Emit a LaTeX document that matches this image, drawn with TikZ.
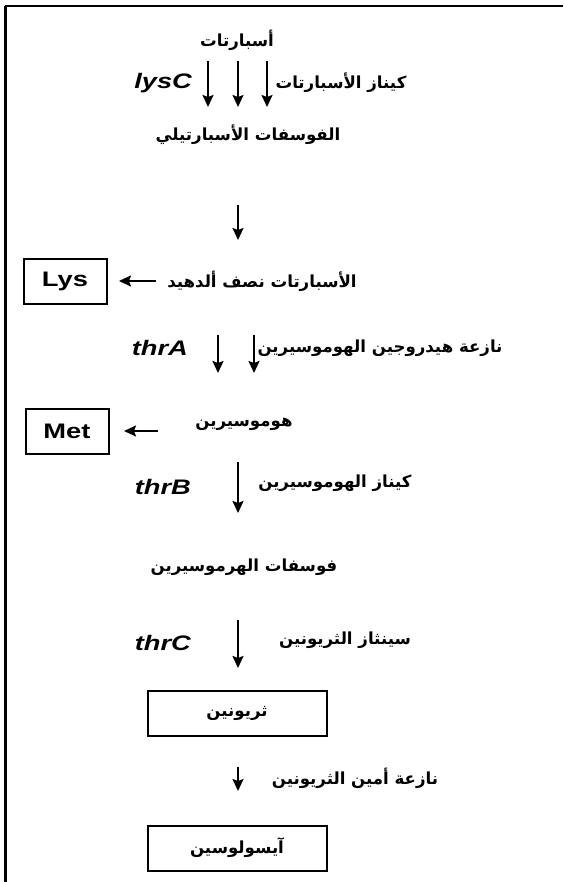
\documentclass[tikz,border=0pt]{standalone}
\usepackage{fontspec}
\usepackage{tikz}
\usetikzlibrary{arrows.meta}
\TeXXeTstate=1
\newfontfamily\arabicfont[Script=Arabic]{DejaVu Sans}
\newfontfamily\genefont[FakeStretch=1.3]{Liberation Sans}
\newcommand{\artext}[1]{{\arabicfont\bfseries\fontsize{8.3}{10}\selectfont\beginR #1\endR}}
\newcommand{\gene}[1]{{\genefont\bfseries\itshape\fontsize{10.5}{12}\selectfont #1}}
\tikzset{
  step arrow/.style={line width=1pt,-{Stealth[length=6pt,width=5.5pt,inset=1pt]}},
  amino box/.style={draw,line width=1pt,inner sep=0pt,minimum height=22.5pt,font=\genefont\bfseries\fontsize{10.5}{12}\selectfont},
}
\begin{document}
\begin{tikzpicture}[x=0.5pt,y=-0.5pt]
        \useasboundingbox (0,0) rectangle (563,882);
        \draw[line width=1pt] (563,6)--(5,6); \draw[line width=1.5pt] (5,6)--(5,882);
        % aspartate -> aspartyl phosphate
        \node (asp) at (237,40) {\artext{أسبارتات}};
        \node[anchor=east] (lysC) at (199,83) {\gene{lysC}};
        \node (aspk) at (341,83) {\artext{كيناز الأسبارتات}};
        \foreach \x [count=\i] in {208,238,267}{
            \coordinate (a\i) at (\x,61); \coordinate (b\i) at (\x,107);
            \draw[step arrow] (a\i)--(b\i);
        }
        \node (aspp) at (248,135) {\artext{الفوسفات الأسبارتيلي}};
        \coordinate (c1) at (238,205); \coordinate (c2) at (238,240);
        \draw[step arrow] (c1)--(c2);
        % semialdehyde, lysine branch
        \node (asa) at (262,281) {\artext{الأسبارتات نصف ألدهيد}};
        \node[amino box,minimum width=41.5pt] (lys) at (65,281) {Lys};
        \coordinate (d1) at (156,281); \coordinate (d2) at (119,281);
        \draw[step arrow] (d1)--(d2);
        \node[anchor=east] (thrA) at (195,348) {\gene{thrA}};
        \node (hdh) at (380,348) {\artext{نازعة هيدروجين الهوموسيرين}};
        \foreach \x [count=\i] in {218,254}{
            \coordinate (e\i) at (\x,335); \coordinate (f\i) at (\x,373);
            \draw[step arrow] (e\i)--(f\i);
        }
        % homoserine, methionine branch
        \node (hse) at (244,424) {\artext{هوموسيرين}};
        \node[amino box,minimum width=41.5pt] (met) at (67,431) {Met};
        \coordinate (g1) at (158,431); \coordinate (g2) at (124,431);
        \draw[step arrow] (g1)--(g2);
        \node[anchor=east] (thrB) at (198,487) {\gene{thrB}};
        \node (hk) at (335,483) {\artext{كيناز الهوموسيرين}};
        \coordinate (h1) at (238,462); \coordinate (h2) at (238,513);
        \draw[step arrow] (h1)--(h2);
        \node (hsp) at (244,567) {\artext{فوسفات الهرموسيرين}};
        \node[anchor=east] (thrC) at (198,643) {\gene{thrC}};
        \node (ts) at (345,640) {\artext{سينثاز الثريونين}};
        \coordinate (k1) at (238,620); \coordinate (k2) at (238,668);
        \draw[step arrow] (k1)--(k2);
        % threonine -> isoleucine
        \node[amino box,minimum width=89.5pt] (thr) at (237,713) {\artext{ثريونين}};
        \coordinate (m1) at (238,767); \coordinate (m2) at (238,791);
        \draw[step arrow] (m1)--(m2);
        \node (td) at (355,778) {\artext{نازعة أمين الثريونين}};
        \node[amino box,minimum width=89.5pt] (ile) at (237,848) {\artext{آيسولوسين}};
\end{tikzpicture}
\end{document}
